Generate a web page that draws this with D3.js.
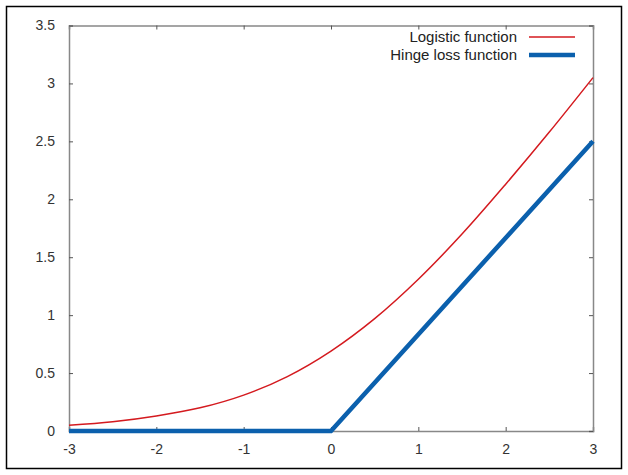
<!DOCTYPE html>
<html><head><meta charset="utf-8">
<script src="https://cdn.jsdelivr.net/npm/d3@7"></script>
<style>html,body{margin:0;padding:0;background:#fff;}svg{display:block;}</style>
</head><body>
<svg id="chart" width="628" height="475"></svg>
<script>
const xTicks = [-3, -2, -1, 0, 1, 2, 3];
const yTicks = [0, 0.5, 1, 1.5, 2, 2.5, 3, 3.5];
const logisticX = [-3, -2.5, -2, -1.5, -1, -0.5, 0, 0.5, 1, 1.5, 2, 2.5, 3];
const logisticY = [0.05, 0.08, 0.13, 0.2, 0.31, 0.47, 0.69, 0.97, 1.31, 1.7, 2.13, 2.58, 3.05];
const hingeX = [-3, 0, 3];
const hingeY = [0, 0, 2.5];
const seriesNames = ["Logistic function", "Hinge loss function"];

const svg = d3.select("#chart");
svg.append("rect").attr("x", 6.5).attr("y", 6.5).attr("width", 615).attr("height", 462)
  .attr("fill", "#fff").attr("stroke", "#000").attr("stroke-width", 1.5);

const x = d3.scaleLinear().domain([-3, 3]).range([69, 593]);
const y = d3.scaleLinear().domain([0, 3.5]).range([431, 25.5]);

const axisColor = "#888";
const font = "'Liberation Sans', Arial, sans-serif";

const gx = svg.append("g").attr("transform", `translate(0,${y(0)})`)
  .call(d3.axisBottom(x).tickValues(xTicks).tickSize(-4).tickPadding(13).tickFormat(d3.format("d")));
const gxt = svg.append("g").attr("transform", `translate(0,${y(3.5)})`)
  .call(d3.axisTop(x).tickValues(xTicks).tickSize(-4).tickFormat(""));
const gy = svg.append("g").attr("transform", `translate(${x(-3)},0)`)
  .call(d3.axisLeft(y).tickValues(yTicks).tickSize(-4).tickPadding(14).tickFormat(d => d3.format("")(d)));
const gyr = svg.append("g").attr("transform", `translate(${x(3)},0)`)
  .call(d3.axisRight(y).tickValues(yTicks).tickSize(-4).tickFormat(""));

[gx, gxt, gy, gyr].forEach(g => {
  g.select(".domain").attr("stroke", axisColor).attr("stroke-width", 1.5);
  g.selectAll(".tick line").attr("stroke", "#555").attr("stroke-width", 1);
  g.selectAll(".tick text").attr("fill", "#333").style("font-family", font).style("font-size", "14px");
});
gx.selectAll(".tick text").text(d => d < 0 ? "-" + Math.abs(d) : d);

const logData = logisticX.map((v, i) => [v, logisticY[i]]);
const hingeData = hingeX.map((v, i) => [v, hingeY[i]]);

svg.append("path")
  .attr("d", d3.line().x(d => x(d[0])).y(d => y(d[1])).curve(d3.curveCatmullRom)(logData))
  .attr("fill", "none").attr("stroke", "#d41a1f").attr("stroke-width", 1.5);
svg.append("path")
  .attr("d", d3.line().x(d => x(d[0])).y(d => y(d[1]))(hingeData))
  .attr("fill", "none").attr("stroke", "#0b60ad").attr("stroke-width", 4.5);

const legend = [
  {name: seriesNames[0], color: "#d41a1f", w: 1.5, yy: 37},
  {name: seriesNames[1], color: "#0b60ad", w: 4.5, yy: 55}
];
legend.forEach(l => {
  svg.append("text").attr("x", 517).attr("y", l.yy).attr("dy", "0.35em")
    .attr("text-anchor", "end").attr("fill", "#222")
    .style("font-family", font).style("font-size", "15px").text(l.name);
  svg.append("line").attr("x1", 529).attr("x2", 575).attr("y1", l.yy).attr("y2", l.yy)
    .attr("stroke", l.color).attr("stroke-width", l.w);
});
</script>
</body></html>
